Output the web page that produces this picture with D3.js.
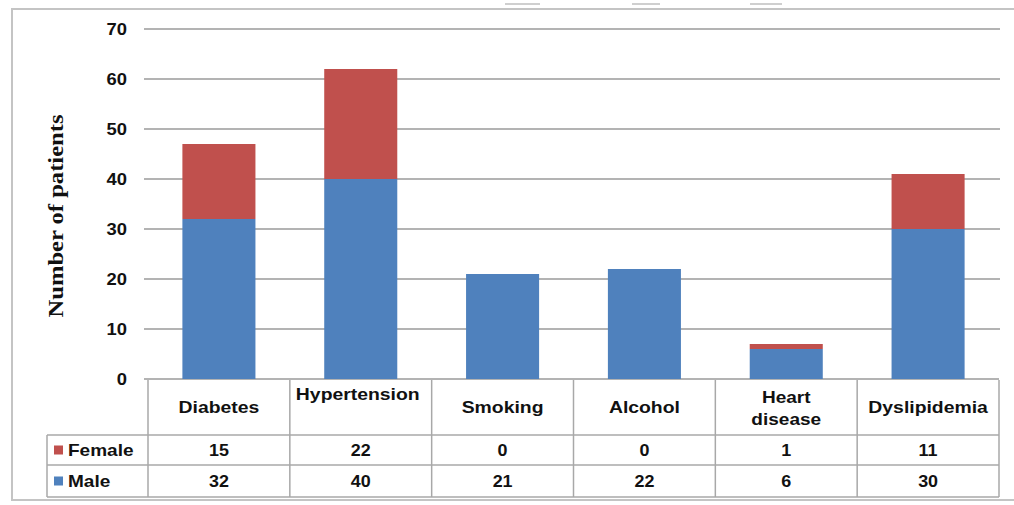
<!DOCTYPE html>
<html><head><meta charset="utf-8">
<script src="https://cdn.jsdelivr.net/npm/d3@7"></script>
<style>html,body{margin:0;padding:0;background:#fff;}svg{display:block;}</style>
</head><body>
<svg id="chart" width="1014" height="505"></svg>
<script>
const categories = ["Diabetes","Hypertension","Smoking","Alcohol","Heart disease","Dyslipidemia"];
const categoryLines = [["Diabetes"],["Hypertension"],["Smoking"],["Alcohol"],["Heart","disease"],["Dyslipidemia"]];
const female = [15,22,0,0,1,11];
const male = [32,40,21,22,6,30];
const yTicks = [0,10,20,30,40,50,60,70];
const seriesNames = ["Female","Male"];
const colors = {Male:"#4F81BD", Female:"#C0504D"};

(function(){
const svg = d3.select("#chart");
const pLeft = 148, pRight = 999, pTop = 29, pBottom = 379;

// outer frame
svg.append("rect").attr("x",12).attr("y",9).attr("width",1010).attr("height",491)
  .attr("fill","none").attr("stroke","#c4c4c4").attr("stroke-width",2);
[[505,540],[632,660],[750,782]].forEach(([a,b])=>{
  svg.append("line").attr("x1",a).attr("x2",b).attr("y1",4).attr("y2",4).attr("stroke","#cfcfcf").attr("stroke-width",2);
});

const x = d3.scaleBand().domain(categories).range([pLeft,pRight]).paddingInner(0.485).paddingOuter(0.2425);
const y = d3.scaleLinear().domain([0,70]).range([pBottom,pTop]);

function stext(g, tx, ty, str, opts){
  const sx = opts.sx || 1.15;
  return g.append("text").attr("transform",`translate(${tx},${ty}) scale(${sx},1)`)
    .attr("text-anchor",opts.anchor||"middle")
    .attr("font-family",opts.family||"'Liberation Sans', Arial, sans-serif")
    .attr("font-weight","bold").attr("font-size",opts.size||17).attr("fill","#111").text(str);
}

// gridlines
const grid = svg.append("g");
yTicks.forEach(v=>{
  grid.append("line").attr("x1",pLeft-4).attr("x2",v===0?pRight:1000).attr("y1",y(v)).attr("y2",y(v))
    .attr("stroke","#9a9a9a").attr("stroke-width",1.5);
});
yTicks.forEach(v=>{
  stext(svg, 127, y(v)+6, String(v), {anchor:"end", size:16, sx:1.15});
});

// y title
svg.append("text").attr("transform",`translate(63,216) rotate(-90)`)
  .attr("text-anchor","middle").attr("font-family","'Liberation Serif','Times New Roman',serif")
  .attr("font-weight","bold").attr("font-size",20).attr("fill","#111")
  .attr("textLength",203).attr("lengthAdjust","spacingAndGlyphs").text("Number of patients");

// stacked bars
const data = categories.map((c,i)=>({cat:c, Male:male[i], Female:female[i]}));
const stack = d3.stack().keys(["Male","Female"])(data);
svg.append("g").selectAll("g").data(stack).join("g").attr("fill",d=>colors[d.key])
  .selectAll("rect").data(d=>d).join("rect")
  .attr("x",d=>x(d.data.cat)).attr("width",x.bandwidth())
  .attr("y",d=>y(d[1])).attr("height",d=>y(d[0])-y(d[1]));

// data table
const tb = svg.append("g");
const step = x.step();
const bounds = categories.map(c=>x(c)-x.paddingOuter()*step);
const rowHeader = [380,435], rowF = [435,465], rowM = [465,497];
const lineCol = "#a8a8a8";
bounds.concat([pRight]).forEach(bx=>{
  tb.append("line").attr("x1",bx).attr("x2",bx).attr("y1",rowHeader[0]).attr("y2",rowM[1]).attr("stroke",lineCol).attr("stroke-width",1.5);
});
tb.append("line").attr("x1",47).attr("x2",47).attr("y1",rowF[0]).attr("y2",rowM[1]).attr("stroke",lineCol).attr("stroke-width",1.5);
[rowF[0],rowM[0],rowM[1]].forEach(yy=>{
  tb.append("line").attr("x1",47).attr("x2",pRight).attr("y1",yy).attr("y2",yy).attr("stroke",lineCol).attr("stroke-width",1.5);
});
categoryLines.forEach((lines,i)=>{
  const cx = x(categories[i]) + x.bandwidth()/2;
  if(lines.length===2){
    stext(tb, cx, 403, lines[0], {size:17, sx:1.12});
    stext(tb, cx, 425, lines[1], {size:17, sx:1.12});
  } else if(categories[i]==="Hypertension"){
    stext(tb, cx-3, 400, lines[0], {size:17, sx:1.14});
  } else {
    stext(tb, cx, 413, lines[0], {size:17, sx:1.14});
  }
});
const rows = [{name:"Female", vals:female, yy:rowF}, {name:"Male", vals:male, yy:rowM}];
rows.forEach(r=>{
  const mid = (r.yy[0]+r.yy[1])/2;
  tb.append("rect").attr("x",54).attr("y",mid-4.5).attr("width",9).attr("height",9).attr("fill",colors[r.name]);
  stext(tb, 68, mid+6, r.name, {anchor:"start", size:17, sx:1.12});
  r.vals.forEach((v,i)=>{
    const cx = x(categories[i]) + x.bandwidth()/2;
    stext(tb, cx, mid+6, String(v), {size:16, sx:1.12});
  });
});
})();
</script>
</body></html>
